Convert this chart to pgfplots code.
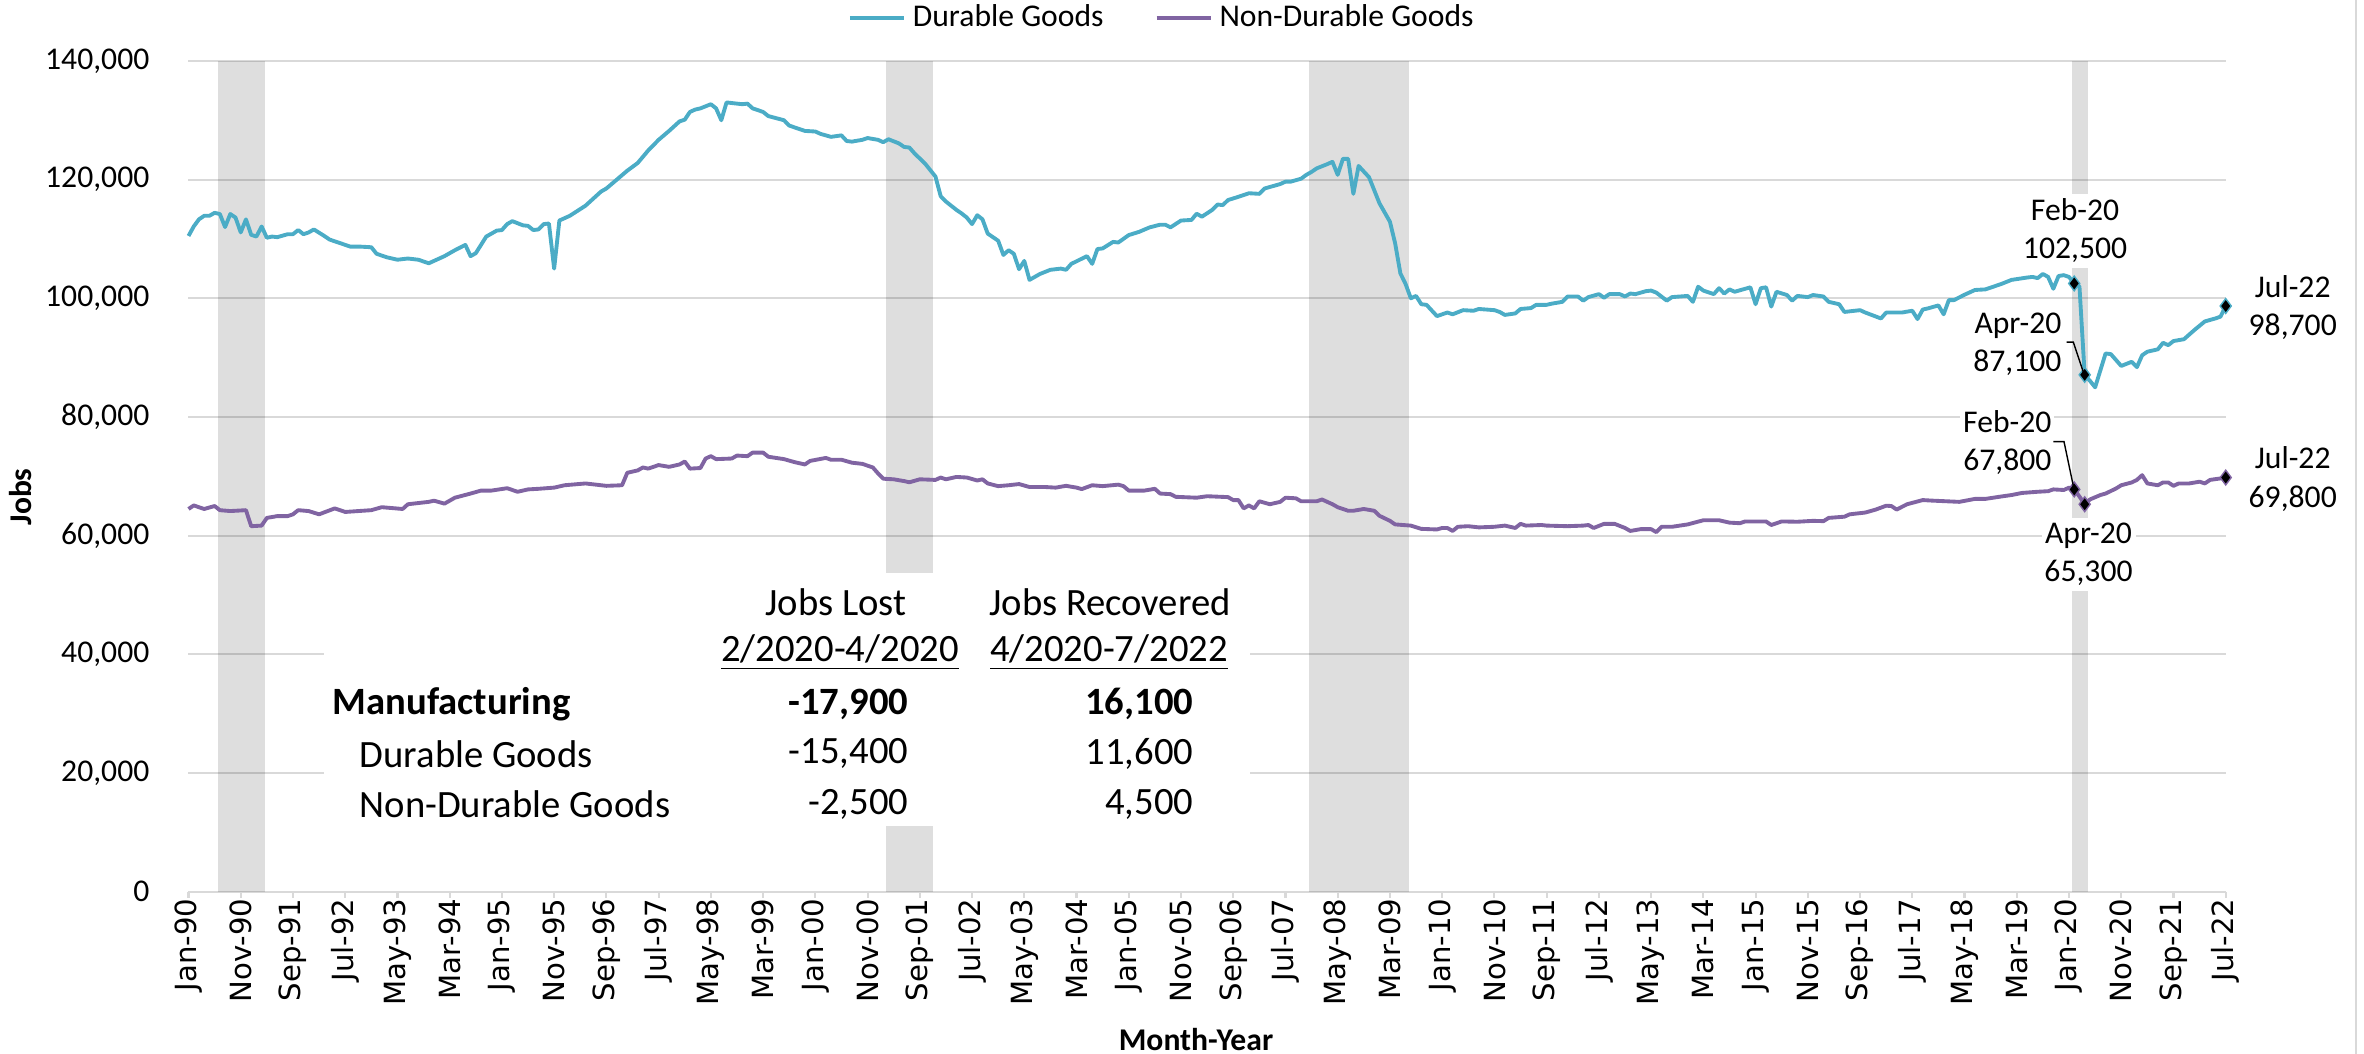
\documentclass[border=0pt]{standalone}
\usepackage{pgfplots}
\usepackage{pgfplotstable}
\pgfplotsset{compat=1.18}
\usepackage{fontspec}
\setmainfont{Carlito}
\newfontfamily\tickfont{DejaVu Sans}
\definecolor{durable}{RGB}{75,172,198}
\definecolor{nondurable}{RGB}{128,100,162}
\definecolor{gridgray}{RGB}{217,217,217}

% month index: 0 = Jan-90 ... 390 = Jul-22
\pgfplotstableread{
m v
0 110500
1 112100
2 113300
3 113900
4 113900
5 114400
6 114200
7 112000
8 114200
9 113600
10 111100
11 113300
12 110700
13 110400
14 112100
15 110200
16 110400
17 110300
19 110800
20 110800
21 111500
22 110800
23 111100
24 111600
26 110500
27 109900
29 109300
31 108700
33 108700
35 108600
36 107500
38 106900
40 106500
42 106700
44 106500
46 105900
49 107100
51 108100
53 109000
54 107100
55 107600
57 110400
59 111400
60 111500
61 112500
62 113000
64 112300
65 112200
66 111500
67 111600
68 112500
69 112600
70 105000
71 113100
72 113500
73 113900
76 115600
79 118000
80 118500
84 121500
86 122800
88 124900
90 126700
92 128200
94 129800
95 130100
96 131400
97 131800
98 132000
100 132700
101 132000
102 130000
103 133000
106 132700
107 132800
108 132000
110 131400
111 130700
114 130000
115 129100
116 128800
118 128200
120 128100
121 127700
123 127200
125 127450
126 126500
127 126400
129 126700
130 127000
132 126700
133 126300
134 126800
136 126100
137 125500
138 125400
139 124400
141 122700
142 121600
143 120500
144 117200
145 116300
147 114900
148 114300
149 113600
150 112500
151 114000
152 113300
153 110900
155 109700
156 107300
157 108100
158 107500
159 104900
160 106300
161 103100
163 104100
165 104800
167 105000
168 104800
169 105800
172 107100
173 105800
174 108300
175 108400
177 109500
178 109400
180 110650
182 111200
184 111950
186 112400
187 112400
188 111950
190 113100
192 113200
193 114250
194 113750
196 114900
197 115800
198 115700
199 116550
201 117100
203 117700
205 117600
206 118500
209 119250
210 119650
211 119650
213 120150
214 120800
215 121300
216 121900
218 122600
219 123000
220 120800
221 123500
222 123500
223 117600
224 122300
226 120400
227 118200
228 116000
230 112900
231 109250
232 104200
233 102400
234 100000
235 100400
236 99000
237 98900
239 97000
241 97600
242 97300
244 98000
246 97900
247 98200
250 98000
251 97700
252 97200
254 97450
255 98200
257 98350
258 98900
260 98900
261 99100
263 99400
264 100300
266 100300
267 99600
268 100200
270 100700
271 100100
272 100700
274 100700
275 100300
276 100800
277 100700
279 101200
280 101300
281 100950
283 99600
284 100200
287 100400
288 99400
289 101950
290 101300
292 100700
293 101700
294 100800
295 101500
296 101100
299 101850
300 99000
301 101700
302 101850
303 98600
304 101100
306 100550
307 99600
308 100400
310 100200
311 100550
313 100300
314 99400
316 99000
317 97700
320 98000
321 97600
324 96600
325 97600
328 97600
330 97900
331 96500
332 98100
333 98300
335 98800
336 97300
337 99700
338 99700
340 100600
342 101400
344 101500
347 102400
349 103100
352 103500
353 103600
354 103400
355 104100
356 103600
357 101600
358 103750
359 103900
360 103600
361 102500
362 102000
363 87100
364 86100
365 85000
367 90700
368 90600
370 88600
372 89300
373 88400
374 90400
375 91000
377 91400
378 92500
379 92100
380 92800
382 93100
384 94650
386 96100
388 96600
389 96900
390 98700
}\durable

\pgfplotstableread{
m v
0 64500
1 65100
3 64500
5 65000
6 64300
8 64150
11 64300
12 61600
14 61700
15 63000
17 63300
19 63300
20 63600
21 64300
23 64150
25 63600
28 64600
30 64000
35 64300
37 64800
41 64500
42 65300
46 65700
47 65900
49 65400
51 66400
54 67100
56 67600
58 67600
61 68000
63 67400
65 67800
67 67900
70 68100
72 68500
76 68800
80 68400
83 68500
84 70600
86 71000
87 71500
88 71300
90 71900
92 71600
94 72000
95 72500
96 71300
98 71400
99 73000
100 73400
101 72900
104 73000
105 73500
107 73400
108 74000
110 74000
111 73300
114 72900
116 72400
118 72000
119 72600
122 73100
123 72800
125 72800
127 72300
129 72100
131 71500
132 70500
133 69600
135 69500
137 69200
138 69000
140 69500
143 69400
144 69800
145 69500
147 69900
149 69800
151 69300
152 69500
153 68800
155 68350
157 68500
159 68700
161 68200
164 68200
166 68100
168 68400
170 68100
171 67850
173 68500
175 68350
178 68600
179 68350
180 67600
183 67600
185 67900
186 67100
188 67000
189 66550
193 66400
195 66650
199 66500
200 66000
201 66000
202 64600
203 65100
204 64600
205 65800
207 65300
209 65700
210 66400
212 66300
213 65800
216 65800
217 66100
219 65300
220 64800
222 64200
223 64200
225 64500
227 64200
228 63350
230 62500
231 61900
234 61700
236 61150
239 61050
240 61300
241 61300
242 60800
243 61500
245 61600
247 61400
250 61500
252 61700
254 61300
255 62000
256 61700
259 61800
260 61700
264 61600
267 61700
268 61800
269 61300
271 62000
273 62000
275 61300
276 60800
278 61100
280 61100
281 60600
282 61500
284 61500
287 61900
290 62600
293 62600
295 62200
297 62100
298 62400
302 62400
303 61800
305 62400
308 62350
311 62500
313 62450
314 63000
317 63200
318 63600
321 63900
323 64400
325 65050
326 65000
327 64400
329 65300
332 66000
334 65900
339 65700
342 66200
344 66200
347 66600
349 66850
351 67200
354 67400
356 67500
357 67800
359 67700
360 68100
361 67800
362 66600
363 65300
364 66100
366 66850
367 67100
369 67950
370 68500
372 68970
373 69400
374 70200
375 68800
377 68500
378 68970
379 68970
380 68400
381 68800
383 68800
385 69100
386 68800
387 69400
389 69650
390 69800
}\nondurable

\begin{document}
\begin{tikzpicture}
\useasboundingbox (0,0) rectangle (236.4mm,105.4mm);
\begin{axis}[
  at={(18.85mm,16.22mm)}, anchor=south west,
  scale only axis, width=203.72mm, height=83.09mm,
  xmin=0, xmax=390, ymin=0, ymax=140000,
  enlargelimits=false,
  axis x line*=bottom, axis y line*=left,
  x axis line style={gridgray, line width=0.6pt, -},
  y axis line style={draw=none},
  ymajorgrids, grid style={gridgray, line width=0.6pt},
  ytick={0,20000,...,140000},
  scaled y ticks=false,
  /pgf/number format/.cd, fixed, 1000 sep={,}, assume math mode=true, /pgfplots/.cd,
  ytick style={draw=none},
  yticklabel style={font=\fontsize{9}{10.8}\selectfont, inner xsep=0pt, xshift=-3.25mm},
  xtick={0,10,...,390},
  xticklabels={Jan-90,Nov-90,Sep-91,Jul-92,May-93,Mar-94,Jan-95,Nov-95,Sep-96,Jul-97,May-98,Mar-99,Jan-00,Nov-00,Sep-01,Jul-02,May-03,Mar-04,Jan-05,Nov-05,Sep-06,Jul-07,May-08,Mar-09,Jan-10,Nov-10,Sep-11,Jul-12,May-13,Mar-14,Jan-15,Nov-15,Sep-16,Jul-17,May-18,Mar-19,Jan-20,Nov-20,Sep-21,Jul-22},
  xticklabel style={rotate=90, anchor=east, inner sep=0pt, font=\tickfont\fontsize{8.3}{10}\selectfont},
  tick align=outside, major tick length=0.6mm,
  xtick style={gridgray, line width=0.6pt},
  legend style={at={(0.479,1.0516)}, anchor=center, draw=none, fill=none,
    font=\fontsize{9}{10.8}\selectfont, legend columns=2,
    /tikz/every even column/.append style={column sep=4.4mm}},
  legend image code/.code={\draw[#1] (0mm,0mm) -- (5.4mm,0mm);},
  clip=false,
]
% recession bands
\addplot[draw=none, fill=black, fill opacity=0.13, forget plot] coordinates {(5.6,140000) (14.6,140000)} \closedcycle;
\addplot[draw=none, fill=black, fill opacity=0.13, forget plot] coordinates {(133.6,140000) (142.6,140000)} \closedcycle;
\addplot[draw=none, fill=black, fill opacity=0.13, forget plot] coordinates {(214.6,140000) (233.6,140000)} \closedcycle;
\addplot[draw=none, fill=black, fill opacity=0.13, forget plot] coordinates {(360.6,140000) (363.6,140000)} \closedcycle;

\addplot[durable, line width=1.1pt, line join=round, mark=none] table[x=m, y=v] {\durable};
\addlegendentry{Durable Goods}
\addplot[nondurable, line width=1.1pt, line join=round, mark=none] table[x=m, y=v] {\nondurable};
\addlegendentry{Non-Durable Goods}

\addplot[only marks, mark=diamond*, mark size=2.1pt, mark options={fill=black, draw=durable, line width=0.4pt}, forget plot]
  coordinates {(361,102500) (363,87100) (390,98700)};
\addplot[only marks, mark=diamond*, mark size=2.1pt, mark options={fill=black, draw=nondurable, line width=0.4pt}, forget plot]
  coordinates {(361,67800) (363,65300) (390,69800)};
\end{axis}

% table box
\fill[white] (32.4mm,22.8mm) rectangle (125.0mm,48.1mm);
\begin{scope}[every node/.style={inner sep=0pt, font=\fontsize{11}{13.2}\selectfont}]
\node at (83.6mm,45.15mm) {Jobs Lost};
\node at (84.0mm,40.12mm) {\underline{2/2020-4/2020}};
\node at (111.0mm,45.15mm) {Jobs Recovered};
\node at (110.9mm,40.12mm) {\underline{4/2020-7/2022}};
\node[anchor=west] at (33.2mm,34.96mm) {\bfseries Manufacturing};
\node[anchor=east] at (90.9mm,34.96mm) {\bfseries -17,900};
\node[anchor=east] at (119.4mm,34.96mm) {\bfseries 16,100};
\node[anchor=west] at (35.9mm,30.01mm) {Durable Goods};
\node[anchor=east] at (90.9mm,30.01mm) {-15,400};
\node[anchor=east] at (119.4mm,30.01mm) {11,600};
\node[anchor=west] at (35.9mm,24.99mm) {Non-Durable Goods};
\node[anchor=east] at (90.9mm,24.99mm) {-2,500};
\node[anchor=east] at (119.4mm,24.99mm) {4,500};
\end{scope}

% data labels
\begin{scope}[every node/.style={fill=white, inner xsep=0.3mm, inner ysep=0.5mm, align=center, font=\fontsize{9}{10.9}\selectfont}]
\node at (207.5mm,82.31mm) {Feb-20\\102,500};
\node[anchor=east, align=right] at (206.5mm,71.0mm) {Apr-20\\87,100};
\node at (229.27mm,74.65mm) {Jul-22\\98,700};
\node at (200.73mm,61.15mm) {Feb-20\\67,800};
\node at (229.27mm,57.48mm) {Jul-22\\69,800};
\node at (208.85mm,49.95mm) {Apr-20\\65,300};
\end{scope}
\draw[black, line width=0.4pt] (206.67mm,71.18mm) -- (207.33mm,71.18mm) -- (208.43mm,67.9mm);
\draw[black, line width=0.4pt] (205.33mm,61.23mm) -- (206.4mm,61.23mm) -- (207.4mm,56.47mm);

% axis titles
\node[rotate=90, font=\bfseries\fontsize{9}{10.8}\selectfont] at (2.1mm,55.7mm) {Jobs};
\node[font=\bfseries\fontsize{9}{10.8}\selectfont] at (119.6mm,1.4mm) {Month-Year};

\draw[gridgray, line width=0.6pt] (235.6mm,0mm) -- (235.6mm,105.4mm);
\end{tikzpicture}
\end{document}
